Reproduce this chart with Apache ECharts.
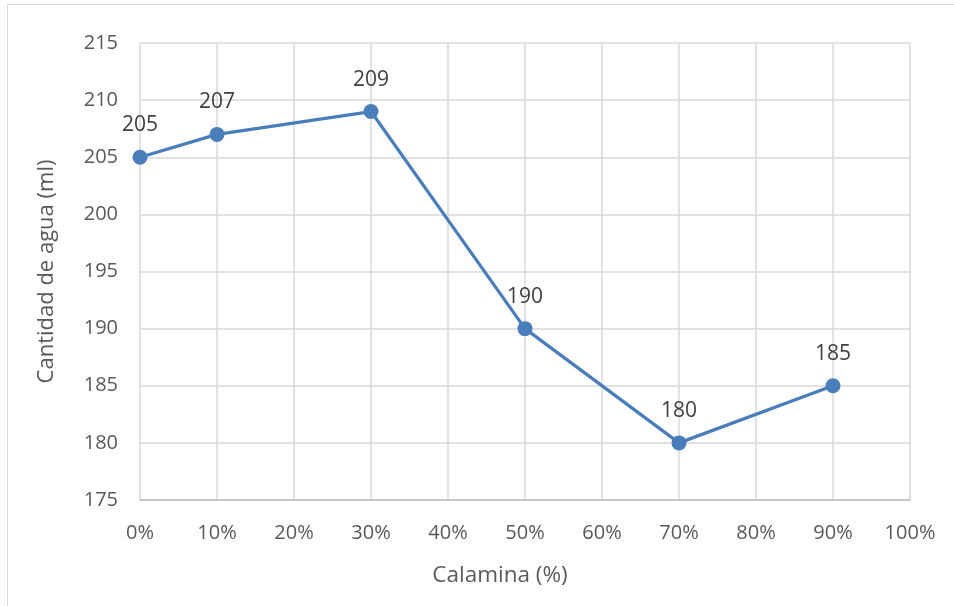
<!DOCTYPE html>
<html>
<head>
<meta charset="utf-8">
<script src="https://cdn.jsdelivr.net/npm/echarts@6/dist/echarts.min.js"></script>
<style>
  html, body { margin: 0; padding: 0; background: #ffffff; }
  #chart { width: 954px; height: 606px; }
</style>
</head>
<body>
<div id="chart"></div>
<script>
// Calamina percentage (x) and water quantity in ml (y)
const calaminaPct = [0, 10, 30, 50, 70, 90];
const aguaMl = [205, 207, 209, 190, 180, 185];

const xAxisTitle = 'Calamina (%)';
const yAxisTitle = 'Cantidad de agua (ml)';

const FONT = '"Open Sans", "Liberation Sans", sans-serif';
const gridColor = '#d9d9d9';
const lineColor = '#4a7ebb';

const points = calaminaPct.map((x, i) => [x, aguaMl[i]]);

const chart = echarts.init(document.getElementById('chart'), null, { renderer: 'canvas' });

chart.setOption({
  backgroundColor: '#ffffff',
  animation: false,
  textStyle: { fontFamily: FONT },
  graphic: [{
    type: 'rect',
    shape: { x: 7.5, y: 4.5, width: 1000, height: 1000 },
    style: { fill: 'none', stroke: gridColor, lineWidth: 1 },
    silent: true
  }],
  grid: { left: 140, right: 44, top: 43, bottom: 106, containLabel: false },
  xAxis: {
    type: 'value',
    min: 0,
    max: 100,
    interval: 10,
    name: xAxisTitle,
    nameLocation: 'middle',
    nameGap: 64,
    nameTextStyle: { fontSize: 22.5, color: '#595959', fontFamily: FONT, padding: [0, 50, 0, 0] },
    axisLine: { show: true, lineStyle: { color: '#bfbfbf', width: 1.5 } },
    axisTick: { show: false },
    axisLabel: {
      formatter: '{value}%',
      fontSize: 20,
      color: '#595959',
      margin: 23,
      fontFamily: FONT
    },
    splitLine: { show: true, lineStyle: { color: gridColor, width: 1.5 } }
  },
  yAxis: {
    type: 'value',
    min: 175,
    max: 215,
    interval: 5,
    name: yAxisTitle,
    nameLocation: 'middle',
    nameGap: 82,
    nameTextStyle: { fontSize: 22, color: '#595959', fontFamily: FONT },
    axisLine: { show: false },
    axisTick: { show: false },
    axisLabel: {
      fontSize: 20,
      color: '#595959',
      margin: 22,
      fontFamily: FONT
    },
    splitLine: { show: true, lineStyle: { color: gridColor, width: 1.5 } }
  },
  series: [{
    type: 'line',
    data: points,
    symbol: 'circle',
    symbolSize: 15,
    itemStyle: { color: lineColor },
    lineStyle: { color: lineColor, width: 3.2 },
    label: {
      show: true,
      position: 'top',
      distance: 14,
      fontSize: 21,
      color: '#404040',
      fontFamily: FONT,
      formatter: p => p.value[1]
    }
  }]
});
</script>
</body>
</html>
